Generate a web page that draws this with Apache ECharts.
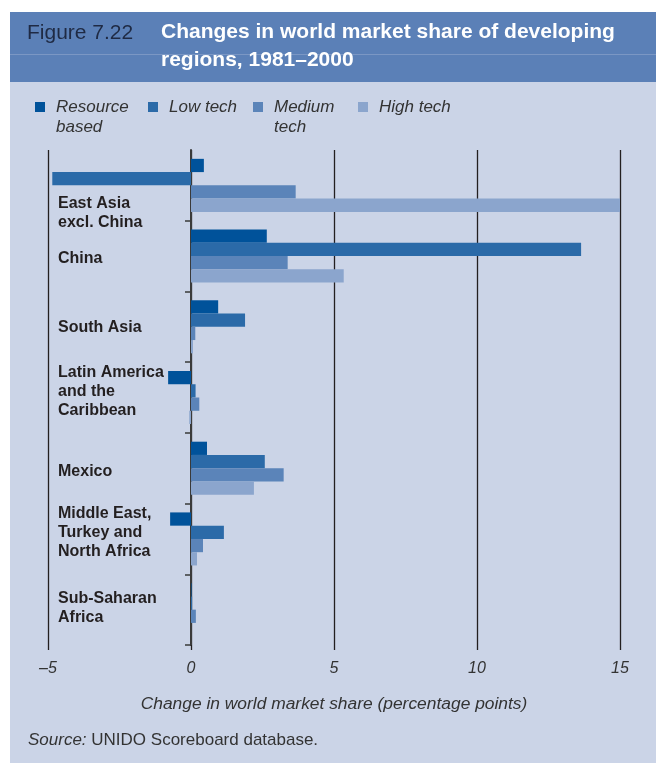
<!DOCTYPE html>
<html>
<head>
<meta charset="utf-8">
<script src="https://cdn.jsdelivr.net/npm/echarts@6/dist/echarts.min.js"></script>
<style>html,body{margin:0;padding:0;background:#fff}#c{width:656px;height:763px}</style>
</head>
<body>
<div id="c"></div>
<script>
const categories = ['East Asia\nexcl. China', 'China', 'South Asia', 'Latin America\nand the\nCaribbean', 'Mexico', 'Middle East,\nTurkey and\nNorth Africa', 'Sub-Saharan\nAfrica'];
const seriesNames = ['Resource based', 'Low tech', 'Medium tech', 'High tech'];
const legendLabels = [' \nResource\nbased', 'Low tech', ' \nMedium\ntech', 'High tech'];
const resourceBased = [0.45, 2.65, 0.95, -0.80, 0.56, -0.73, 0.02];
const lowTech = [-4.85, 13.64, 1.89, 0.16, 2.58, 1.15, 0.04];
const mediumTech = [3.66, 3.38, 0.15, 0.29, 3.24, 0.42, 0.17];
const highTech = [15.32, 5.34, 0.07, -0.06, 2.20, 0.21, 0.0];
const xTicks = { min: -5, max: 15, interval: 5 };
const FONT = '"Liberation Sans", Arial, sans-serif';
const colors = ['#00529a', '#2b6aa8', '#5b84b9', '#8ba5cd'];
const values = [resourceBased, lowTech, mediumTech, highTech];
// vertical nudge of each category label block (px, + = down)
const labelNudge = [28, 3, 1, -6, 3, -6, -2];
const legendWidths = [92, 84, 84, 90];

const labelRich = {
  a: { fontFamily: FONT, fontSize: 16, fontWeight: 'bold', color: '#231f20', lineHeight: 19 }
};
labelNudge.forEach(n => {
  const h = Math.abs(n) * 2;
  labelRich['s' + h] = { fontSize: 1, lineHeight: h };
});
function labelFmt(v, i) {
  const body = v.split('\n').map(l => '{a|' + l + '}').join('\n');
  const n = labelNudge[i];
  if (n === 0) return body;
  const sp = '{s' + Math.abs(n) * 2 + '| }';
  return n > 0 ? sp + '\n' + body : body + '\n' + sp;
}

const chart = echarts.init(document.getElementById('c'), null, { renderer: 'canvas' });
chart.setOption({
  animation: false,
  backgroundColor: '#cbd4e7',
  graphic: [
    { type: 'rect', shape: { x: 0, y: 0, width: 656, height: 12 }, style: { fill: '#ffffff' }, silent: true },
    { type: 'rect', shape: { x: 0, y: 0, width: 10, height: 763 }, style: { fill: '#ffffff' }, silent: true },
    { type: 'rect', shape: { x: 10, y: 12, width: 646, height: 70 }, style: { fill: '#5b80b7' }, silent: true },
    { type: 'line', shape: { x1: 10, y1: 54.5, x2: 656, y2: 54.5 }, style: { stroke: '#7b97c4', lineWidth: 1 }, silent: true }
  ],
  title: [
    { text: 'Figure 7.22', left: 27, top: 21, padding: 0,
      textStyle: { fontFamily: FONT, fontSize: 21, fontWeight: 'normal', color: '#1f2a44', lineHeight: 24 } },
    { text: 'Changes in world market share of developing\nregions, 1981–2000', left: 161, top: 18, padding: 0,
      textStyle: { fontFamily: FONT, fontSize: 21, fontWeight: 'bold', color: '#ffffff', lineHeight: 28 } },
    { text: '{i|Source:} UNIDO Scoreboard database.', left: 28, top: 730, padding: 0,
      textStyle: { fontFamily: FONT, fontSize: 17, fontWeight: 'normal', color: '#333333', lineHeight: 20,
        rich: { i: { fontFamily: FONT, fontSize: 17, fontStyle: 'italic', color: '#333333', lineHeight: 20 } } } }
  ],
  legend: {
    left: 35, top: 77, padding: 0, itemGap: 0, itemWidth: 10, itemHeight: 10, icon: 'rect',
    selectedMode: false,
    formatter: name => legendLabels[seriesNames.indexOf(name)],
    textStyle: { fontFamily: FONT, fontSize: 17, fontStyle: 'italic', color: '#333333', lineHeight: 20, padding: [0, 0, 0, 6] },
    data: seriesNames.map((n, i) => ({ name: n, textStyle: { width: legendWidths[i] } }))
  },
  grid: { left: 48, right: 36, top: 150, bottom: 118, containLabel: false, outerBoundsMode: 'none' },
  xAxis: {
    type: 'value', min: xTicks.min, max: xTicks.max, interval: xTicks.interval,
    axisLine: { show: false },
    axisTick: { show: true, length: 5, lineStyle: { color: '#231f20', width: 1.3 } },
    splitLine: { show: true, lineStyle: { color: '#231f20', width: 1.3 } },
    axisLabel: { fontFamily: FONT, fontSize: 16, fontStyle: 'italic', color: '#333333', margin: 16,
      formatter: v => (v < 0 ? '\u2013' + Math.abs(v) : String(v)) },
    name: 'Change in world market share (percentage points)',
    nameLocation: 'middle', nameGap: 51,
    nameTextStyle: { fontFamily: FONT, fontSize: 17.4, fontStyle: 'italic', color: '#333333' }
  },
  yAxis: {
    type: 'category', inverse: true, data: categories,
    axisLine: { show: true, onZero: true, lineStyle: { color: '#3a3a3a', width: 2 } },
    axisTick: { show: true, length: 6, inside: false, interval: (i) => i > 0, lineStyle: { color: '#3a3a3a', width: 1.5 } },
    splitLine: { show: false },
    axisLabel: { align: 'left', margin: -10, fontFamily: FONT, fontSize: 16, fontWeight: 'bold', color: '#231f20', lineHeight: 19,
      formatter: labelFmt, rich: labelRich }
  },
  series: values.map((d, i) => ({
    type: 'bar', name: seriesNames[i], data: d,
    barGap: '0%', barCategoryGap: '25%',
    itemStyle: { color: colors[i] }
  }))
});
</script>
</body>
</html>
